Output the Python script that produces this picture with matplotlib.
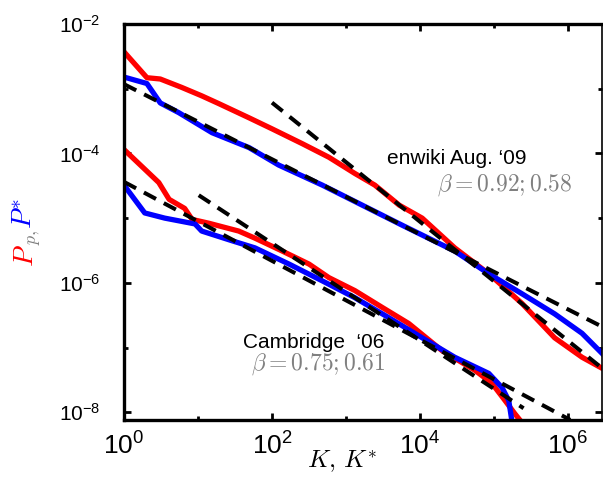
import numpy as np
import matplotlib
matplotlib.use("Agg")
import matplotlib.pyplot as plt
from matplotlib.ticker import FixedLocator, FuncFormatter, NullFormatter

plt.rcParams['font.family'] = ['Liberation Sans', 'DejaVu Sans']
plt.rcParams['mathtext.fontset'] = 'custom'
plt.rcParams['mathtext.rm'] = 'Liberation Sans'
plt.rcParams['mathtext.it'] = 'Liberation Sans:italic'

# log10 values
wiki_p_logk = [0.0, 0.31, 0.49, 0.78, 1.05, 1.28, 1.69, 2.0, 2.41, 2.77, 3.12, 3.39, 3.72, 4.03, 4.47, 4.93, 5.38, 5.82, 6.19, 6.46]
wiki_p_logp = [-2.43, -2.83, -2.85, -2.98, -3.11, -3.23, -3.45, -3.62, -3.85, -4.06, -4.31, -4.49, -4.80, -5.0, -5.46, -5.86, -6.32, -6.85, -7.15, -7.32]

wiki_s_logk = [0.0, 0.31, 0.49, 0.74, 1.19, 1.69, 2.09, 2.68, 3.22, 3.76, 4.47, 4.93, 5.38, 5.82, 6.19, 6.46]
wiki_s_logp = [-2.82, -2.92, -3.22, -3.37, -3.68, -3.91, -4.18, -4.49, -4.80, -5.11, -5.51, -5.86, -6.17, -6.48, -6.78, -7.09]

cam_p_logk = [0.0, 0.47, 0.61, 0.82, 0.92, 1.15, 1.55, 1.77, 2.14, 2.5, 2.77, 3.12, 3.49, 3.85, 4.30, 4.74, 4.97, 5.15, 5.28, 5.35]
cam_p_logp = [-3.94, -4.45, -4.71, -4.85, -5.02, -5.08, -5.20, -5.31, -5.51, -5.71, -5.92, -6.12, -6.38, -6.63, -7.05, -7.35, -7.55, -7.82, -8.02, -8.12]

cam_s_logk = [0.0, 0.28, 0.55, 0.96, 1.05, 1.46, 1.77, 2.23, 2.68, 3.12, 3.58, 4.03, 4.47, 4.93, 5.11, 5.20, 5.24]
cam_s_logp = [-4.49, -4.92, -5.0, -5.09, -5.2, -5.35, -5.46, -5.71, -5.97, -6.23, -6.54, -6.85, -7.15, -7.40, -7.62, -7.82, -8.12]

# power-law fits: (start log K, end log K, log P at start, beta)
fits = [
    (0.0, 6.46, -2.93, 0.58),
    (2.0, 6.46, -3.215, 0.92),
    (0.0, 6.03, -4.44, 0.61),
    (1.01, 5.40, -4.646, 0.75),
]

fig = plt.figure(figsize=(6.03, 4.82), dpi=100)
ax = fig.add_axes([124/603, 1-420/482, (602-124)/603, (420-24)/482])

lw = 3.8
for lk, lp, c in [(wiki_p_logk, wiki_p_logp, 'red'), (wiki_s_logk, wiki_s_logp, 'blue'),
                  (cam_p_logk, cam_p_logp, 'red'), (cam_s_logk, cam_s_logp, 'blue')]:
    ax.plot(10**np.array(lk), 10**np.array(lp), color=c, lw=lw, solid_joinstyle='round')

for k0, k1, p0, b in fits:
    kk = np.array([k0, k1])
    pp = p0 - b*(kk - k0)
    ax.plot(10**kk, 10**pp, color='k', lw=2.9, ls=(0, (3.4, 2.2)))

ax.set_xscale('log')
ax.set_yscale('log')
ax.set_xlim(1, 10**6.46)
ax.set_ylim(10**-8.12, 10**-2.0)

ax.xaxis.set_major_locator(FixedLocator([1e0, 1e2, 1e4, 1e6]))
ax.xaxis.set_minor_locator(FixedLocator([1e1, 1e3, 1e5]))
ax.yaxis.set_major_locator(FixedLocator([1e-8, 1e-6, 1e-4, 1e-2]))
ax.yaxis.set_minor_locator(FixedLocator([1e-7, 1e-5, 1e-3]))
fmt = FuncFormatter(lambda v, p: r"$\mathregular{10^{%d}}$" % round(np.log10(v)))
ax.xaxis.set_major_formatter(fmt)
ax.yaxis.set_major_formatter(fmt)
ax.xaxis.set_minor_formatter(NullFormatter())
ax.yaxis.set_minor_formatter(NullFormatter())

ax.tick_params(which='both', direction='in', top=True, right=True, width=2)
ax.tick_params(which='major', length=5)
ax.tick_params(which='minor', length=3)
ax.tick_params(axis='x', labelsize=19, pad=9)
ax.tick_params(axis='y', labelsize=15, pad=17)
for s in ax.spines.values():
    s.set_linewidth(2.4)
ax.spines['right'].set_linewidth(1.2)

fig.text(342/603, 1-462/482, r"$K,\, K^{*}$", fontsize=18, ha='center', va='center', math_fontfamily='cm')

# y label with coloured symbols
ylab = [(r"$P$", 26, 256, 'red', 20), (r"$p,$", 34, 237, 'gray', 13),
        (r"$P^{*}$", 25, 213, 'blue', 20)]
for s, x, y, c, fs in ylab:
    fig.text(x/603, 1-y/482, s, color=c, fontsize=fs, rotation=90, ha='center', va='center', math_fontfamily='cm')

fig.text(457/603, 1-159/482, "enwiki Aug. \u201809", fontsize=15, ha='center', va='center')
fig.text(505/603, 1-185/482, r"$\beta = 0.92; 0.58$", fontsize=17, color='gray', ha='center', va='center', math_fontfamily='cm')
fig.text(314/603, 1-343/482, "Cambridge  \u201806", fontsize=15, ha='center', va='center')
fig.text(318/603, 1-364/482, r"$\beta = 0.75; 0.61$", fontsize=17, color='gray', ha='center', va='center', math_fontfamily='cm')

fig.savefig("out.png", dpi=100)
plt.close()
